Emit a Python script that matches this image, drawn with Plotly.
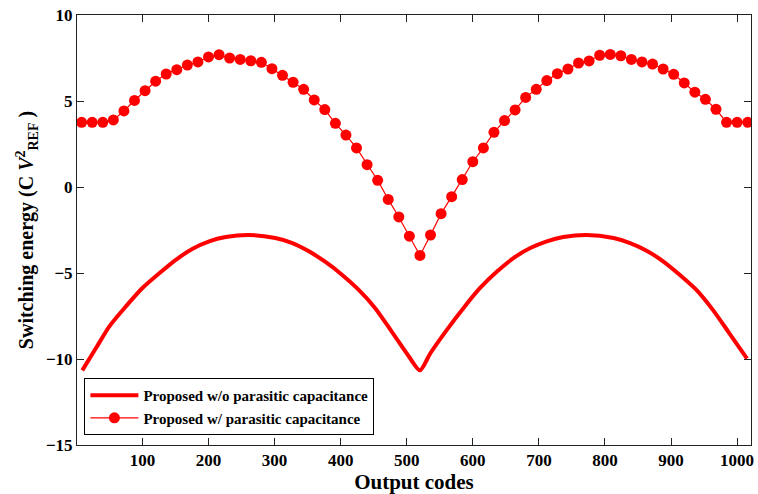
import plotly.graph_objects as go

# Proposed w/o parasitic capacitance (continuous curve)
codes_ideal = [9, 30, 50, 75, 100, 126, 151, 176, 201, 226, 261, 301, 327, 352, 377, 402,
               427, 452, 477, 503, 520, 536, 561, 586, 611, 637, 662, 687, 712, 737,
               772, 813, 838, 863, 888, 913, 938, 963, 988, 1015]
energy_ideal = [-10.66, -9.35, -8.10, -6.94, -5.87, -5.00, -4.22, -3.59, -3.16, -2.91, -2.79,
                -2.97, -3.26, -3.74, -4.36, -5.10, -5.97, -7.03, -8.39, -9.84, -10.66,
                -9.65, -8.29, -7.03, -5.87, -4.90, -4.12, -3.55, -3.16, -2.91, -2.79,
                -2.97, -3.26, -3.70, -4.32, -5.10, -5.97, -7.13, -8.49, -9.98]

# Proposed w/ parasitic capacitance (markers)
codes_par = [8, 24, 40, 56, 72, 88, 104, 120, 136, 152, 168, 184, 200, 216, 232, 248,
             264, 280, 296, 312, 328, 344, 360, 376, 392, 408, 424, 440, 456, 472, 488, 504,
             520, 536, 552, 568, 584, 600, 616, 632, 648, 664, 680, 696, 712, 728, 744, 760,
             776, 792, 808, 824, 840, 856, 872, 888, 904, 920, 936, 952, 968, 984, 1000, 1016]
energy_par = [3.76, 3.76, 3.76, 3.90, 4.42, 5.03, 5.60, 6.15, 6.57, 6.82, 7.09, 7.27,
              7.56, 7.69, 7.50, 7.42, 7.34, 7.25, 6.88, 6.49, 6.09, 5.68, 5.06, 4.50,
              3.70, 3.02, 2.27, 1.30, 0.39, -0.72, -1.74, -2.86, -3.98, -2.79, -1.55, -0.56,
              0.43, 1.47, 2.27, 3.18, 3.86, 4.48, 5.21, 5.68, 6.19, 6.59, 6.86, 7.21,
              7.33, 7.66, 7.71, 7.63, 7.42, 7.27, 7.15, 6.86, 6.55, 6.05, 5.51, 5.10,
              4.52, 3.76, 3.76, 3.76]

x_ticks = [100, 200, 300, 400, 500, 600, 700, 800, 900, 1000]
y_ticks = [-15, -10, -5, 0, 5, 10]

RED = "#ff0000"
FONT = "Liberation Serif"

fig = go.Figure()
fig.add_trace(go.Scatter(
    x=codes_ideal, y=energy_ideal, mode="lines",
    line=dict(color=RED, width=4, shape="spline", smoothing=0.7),
    name="Proposed w/o parasitic capacitance",
))
fig.add_trace(go.Scatter(
    x=codes_par, y=energy_par, mode="lines+markers",
    line=dict(color=RED, width=1.2),
    marker=dict(color=RED, size=11, symbol="circle"),
    name="Proposed w/ parasitic capacitance",
))

axis_common = dict(
    showgrid=False, zeroline=False, showline=True, linecolor="#222", linewidth=1,
    mirror="ticks", ticks="inside", ticklen=7, tickcolor="#222", tickwidth=1,
    tickfont=dict(family=FONT, size=17, color="black", weight="bold"),
)

fig.update_layout(
    width=758, height=494,
    margin=dict(l=77, r=4, t=15, b=49),
    paper_bgcolor="white", plot_bgcolor="white",
    showlegend=True,
    legend=dict(
        x=0.011, y=0.023, xanchor="left", yanchor="bottom",
        bordercolor="black", borderwidth=1, bgcolor="white",
        font=dict(family=FONT, size=15, color="black", weight="bold"),
        itemwidth=48, tracegroupgap=4,
    ),
    xaxis=dict(
        range=[1, 1021], tickvals=x_ticks,
        title=dict(text="Output codes", standoff=2,
                   font=dict(family=FONT, size=21, color="black", weight="bold")),
        **axis_common,
    ),
    yaxis=dict(
        range=[-15, 10], tickvals=y_ticks,
        title=dict(text="Switching energy (C <i>V</i><sup>2</sup><sub>REF</sub> )", standoff=6,
                   font=dict(family=FONT, size=20, color="black", weight="bold")),
        **axis_common,
    ),
)

fig.write_html("out.html")
